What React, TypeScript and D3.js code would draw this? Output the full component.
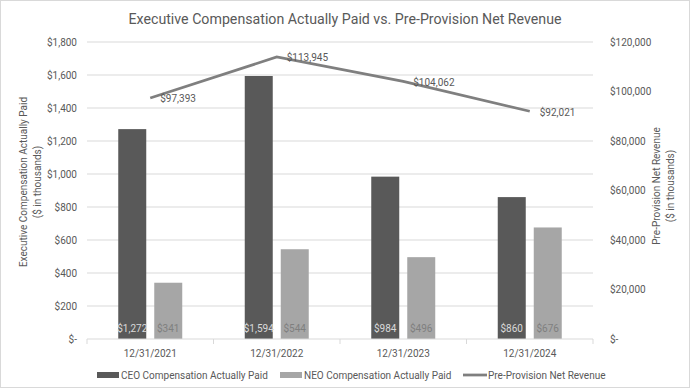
import { useEffect, useRef } from 'react';
import * as d3 from 'd3';

// Values
const categories = ['12/31/2021', '12/31/2022', '12/31/2023', '12/31/2024'];
const ceoPaid = [1272, 1594, 984, 860];
const neoPaid = [341, 544, 496, 676];
const ppnr = [97393, 113945, 104062, 92021];
const leftTicks = [0, 200, 400, 600, 800, 1000, 1200, 1400, 1600, 1800];
const rightTicks = [0, 20000, 40000, 60000, 80000, 100000, 120000];

const FONT = 'Roboto, "Liberation Sans", sans-serif';
const TEXT = '#595959';
const GRID = '#d9d9d9';

export default function App() {
  const ref = useRef<SVGSVGElement>(null);

  useEffect(() => {
    const W = 690;
    const H = 391;
    const margin = { top: 42, right: 97, bottom: 52, left: 87 };
    const width = W - margin.left - margin.right;
    const height = H - margin.top - margin.bottom;

    const root = d3.select(ref.current);
    root.selectAll('*').remove();

    root
      .append('rect')
      .attr('x', 0.5)
      .attr('y', 0.5)
      .attr('width', W - 1)
      .attr('height', H - 4)
      .attr('fill', '#fff')
      .attr('stroke', GRID);

    // title
    root
      .append('text')
      .attr('x', W / 2)
      .attr('y', 24)
      .attr('text-anchor', 'middle')
      .style('font-size', '14.2px')
      .style('fill', TEXT)
      .text('Executive Compensation Actually Paid vs. Pre-Provision Net Revenue');

    const svg = root.append('g').attr('transform', `translate(${margin.left},${margin.top})`);

    const x = d3.scaleBand().domain(categories).range([0, width]);
    const yL = d3.scaleLinear().domain([0, 1800]).range([height, 0]);
    const yR = d3.scaleLinear().domain([0, 120000]).range([height, 0]);

    const fmtL = (v: number) => (v === 0 ? '$-' : '$' + d3.format(',')(v));

    // gridlines
    svg
      .selectAll('.grid')
      .data(leftTicks.slice(1))
      .enter()
      .append('line')
      .attr('x1', 0)
      .attr('x2', width)
      .attr('y1', d => yL(d))
      .attr('y2', d => yL(d))
      .attr('stroke', GRID)
      .attr('stroke-width', 1);

    // left axis labels
    svg
      .selectAll('.ltick')
      .data(leftTicks)
      .enter()
      .append('text')
      .attr('x', -10)
      .attr('y', d => yL(d))
      .attr('dy', '0.35em')
      .attr('text-anchor', 'end')
      .style('font-size', '10px')
      .style('fill', TEXT)
      .text(d => fmtL(d));

    // right axis labels
    svg
      .selectAll('.rtick')
      .data(rightTicks)
      .enter()
      .append('text')
      .attr('x', width + 17)
      .attr('y', d => yR(d))
      .attr('dy', '0.35em')
      .attr('text-anchor', 'start')
      .style('font-size', '10px')
      .style('fill', TEXT)
      .text(d => fmtL(d));

    // bars
    const barW = 28;
    const gap = 8;
    const cx = (c: string) => (x(c) || 0) + x.bandwidth() / 2;

    svg
      .selectAll('.ceo')
      .data(categories)
      .enter()
      .append('rect')
      .attr('x', (c) => cx(c) - gap / 2 - barW)
      .attr('y', (_, i) => yL(ceoPaid[i]))
      .attr('width', barW)
      .attr('height', (_, i) => height - yL(ceoPaid[i]))
      .attr('fill', '#595959');

    svg
      .selectAll('.neo')
      .data(categories)
      .enter()
      .append('rect')
      .attr('x', (c) => cx(c) + gap / 2)
      .attr('y', (_, i) => yL(neoPaid[i]))
      .attr('width', barW)
      .attr('height', (_, i) => height - yL(neoPaid[i]))
      .attr('fill', '#a6a6a6');

    // bar labels (inside base)
    svg
      .selectAll('.ceolbl')
      .data(categories)
      .enter()
      .append('text')
      .attr('x', (c) => cx(c) - gap / 2 - barW / 2)
      .attr('y', height - 11)
      .attr('dy', '0.35em')
      .attr('text-anchor', 'middle')
      .style('font-size', '10px')
      .style('fill', '#d9d9d9')
      .text((_, i) => '$' + d3.format(',')(ceoPaid[i]));

    svg
      .selectAll('.neolbl')
      .data(categories)
      .enter()
      .append('text')
      .attr('x', (c) => cx(c) + gap / 2 + barW / 2)
      .attr('y', height - 11)
      .attr('dy', '0.35em')
      .attr('text-anchor', 'middle')
      .style('font-size', '10px')
      .style('fill', '#7f7f7f')
      .text((_, i) => '$' + d3.format(',')(neoPaid[i]));

    // x axis
    svg
      .append('line')
      .attr('x1', 0)
      .attr('x2', width)
      .attr('y1', height)
      .attr('y2', height)
      .attr('stroke', GRID);

    svg
      .selectAll('.xtick')
      .data(d3.range(categories.length + 1))
      .enter()
      .append('line')
      .attr('x1', i => i * x.bandwidth())
      .attr('x2', i => i * x.bandwidth())
      .attr('y1', height)
      .attr('y2', height + 5)
      .attr('stroke', GRID);

    svg
      .selectAll('.xlbl')
      .data(categories)
      .enter()
      .append('text')
      .attr('x', c => cx(c))
      .attr('y', height + 14)
      .attr('dy', '0.35em')
      .attr('text-anchor', 'middle')
      .style('font-size', '10px')
      .style('fill', TEXT)
      .text(c => c);

    // PPNR line
    const line = d3
      .line<number>()
      .x((_, i) => cx(categories[i]))
      .y(d => yR(d));

    svg
      .append('path')
      .datum(ppnr)
      .attr('fill', 'none')
      .attr('stroke', '#7f7f7f')
      .attr('stroke-width', 2.75)
      .attr('d', line);

    svg
      .selectAll('.plbl')
      .data(ppnr)
      .enter()
      .append('text')
      .attr('x', (_, i) => cx(categories[i]) + 10)
      .attr('y', d => yR(d) + 1)
      .attr('dy', '0.35em')
      .style('font-size', '10px')
      .style('fill', TEXT)
      .text(d => '$' + d3.format(',')(d));

    // axis titles
    const leftT = root
      .append('text')
      .attr('transform', 'translate(23,182) rotate(-90)')
      .attr('text-anchor', 'middle')
      .style('font-size', '10px')
      .style('fill', TEXT);
    leftT.append('tspan').attr('x', 0).attr('dy', '0.35em').text('Executive Compensation Actually Paid');
    leftT.append('tspan').attr('x', 0).attr('dy', '1.45em').text('($ in thousands)');

    const rightT = root
      .append('text')
      .attr('transform', 'translate(656,186) rotate(-90)')
      .attr('text-anchor', 'middle')
      .style('font-size', '10px')
      .style('fill', TEXT);
    rightT.append('tspan').attr('x', 0).attr('dy', '0.35em').text('Pre-Provision Net Revenue');
    rightT.append('tspan').attr('x', 0).attr('dy', '1.45em').text('($ in thousands)');

    // legend
    const legend = [
      { label: 'CEO Compensation Actually Paid', color: '#595959', kind: 'bar', x: 97 },
      { label: 'NEO Compensation Actually Paid', color: '#a6a6a6', kind: 'bar', x: 280 },
      { label: 'Pre-Provision Net Revenue', color: '#7f7f7f', kind: 'line', x: 463 },
    ];
    const lg = root.append('g');
    legend.forEach(l => {
      if (l.kind === 'bar') {
        lg.append('rect').attr('x', l.x).attr('y', 372).attr('width', 22).attr('height', 6).attr('fill', l.color);
      } else {
        lg.append('line')
          .attr('x1', l.x)
          .attr('x2', l.x + 24)
          .attr('y1', 375)
          .attr('y2', 375)
          .attr('stroke', l.color)
          .attr('stroke-width', 2.75);
      }
      lg.append('text')
        .attr('x', l.x + (l.kind === 'bar' ? 24 : 25))
        .attr('y', 375)
        .attr('dy', '0.35em')
        .style('font-size', '10px')
        .style('fill', TEXT)
        .text(l.label);
    });
  }, []);

  return (
    <svg
      ref={ref}
      width={690}
      height={391}
      style={{ position: 'absolute', left: 0, top: 0, fontFamily: FONT }}
    />
  );
}
